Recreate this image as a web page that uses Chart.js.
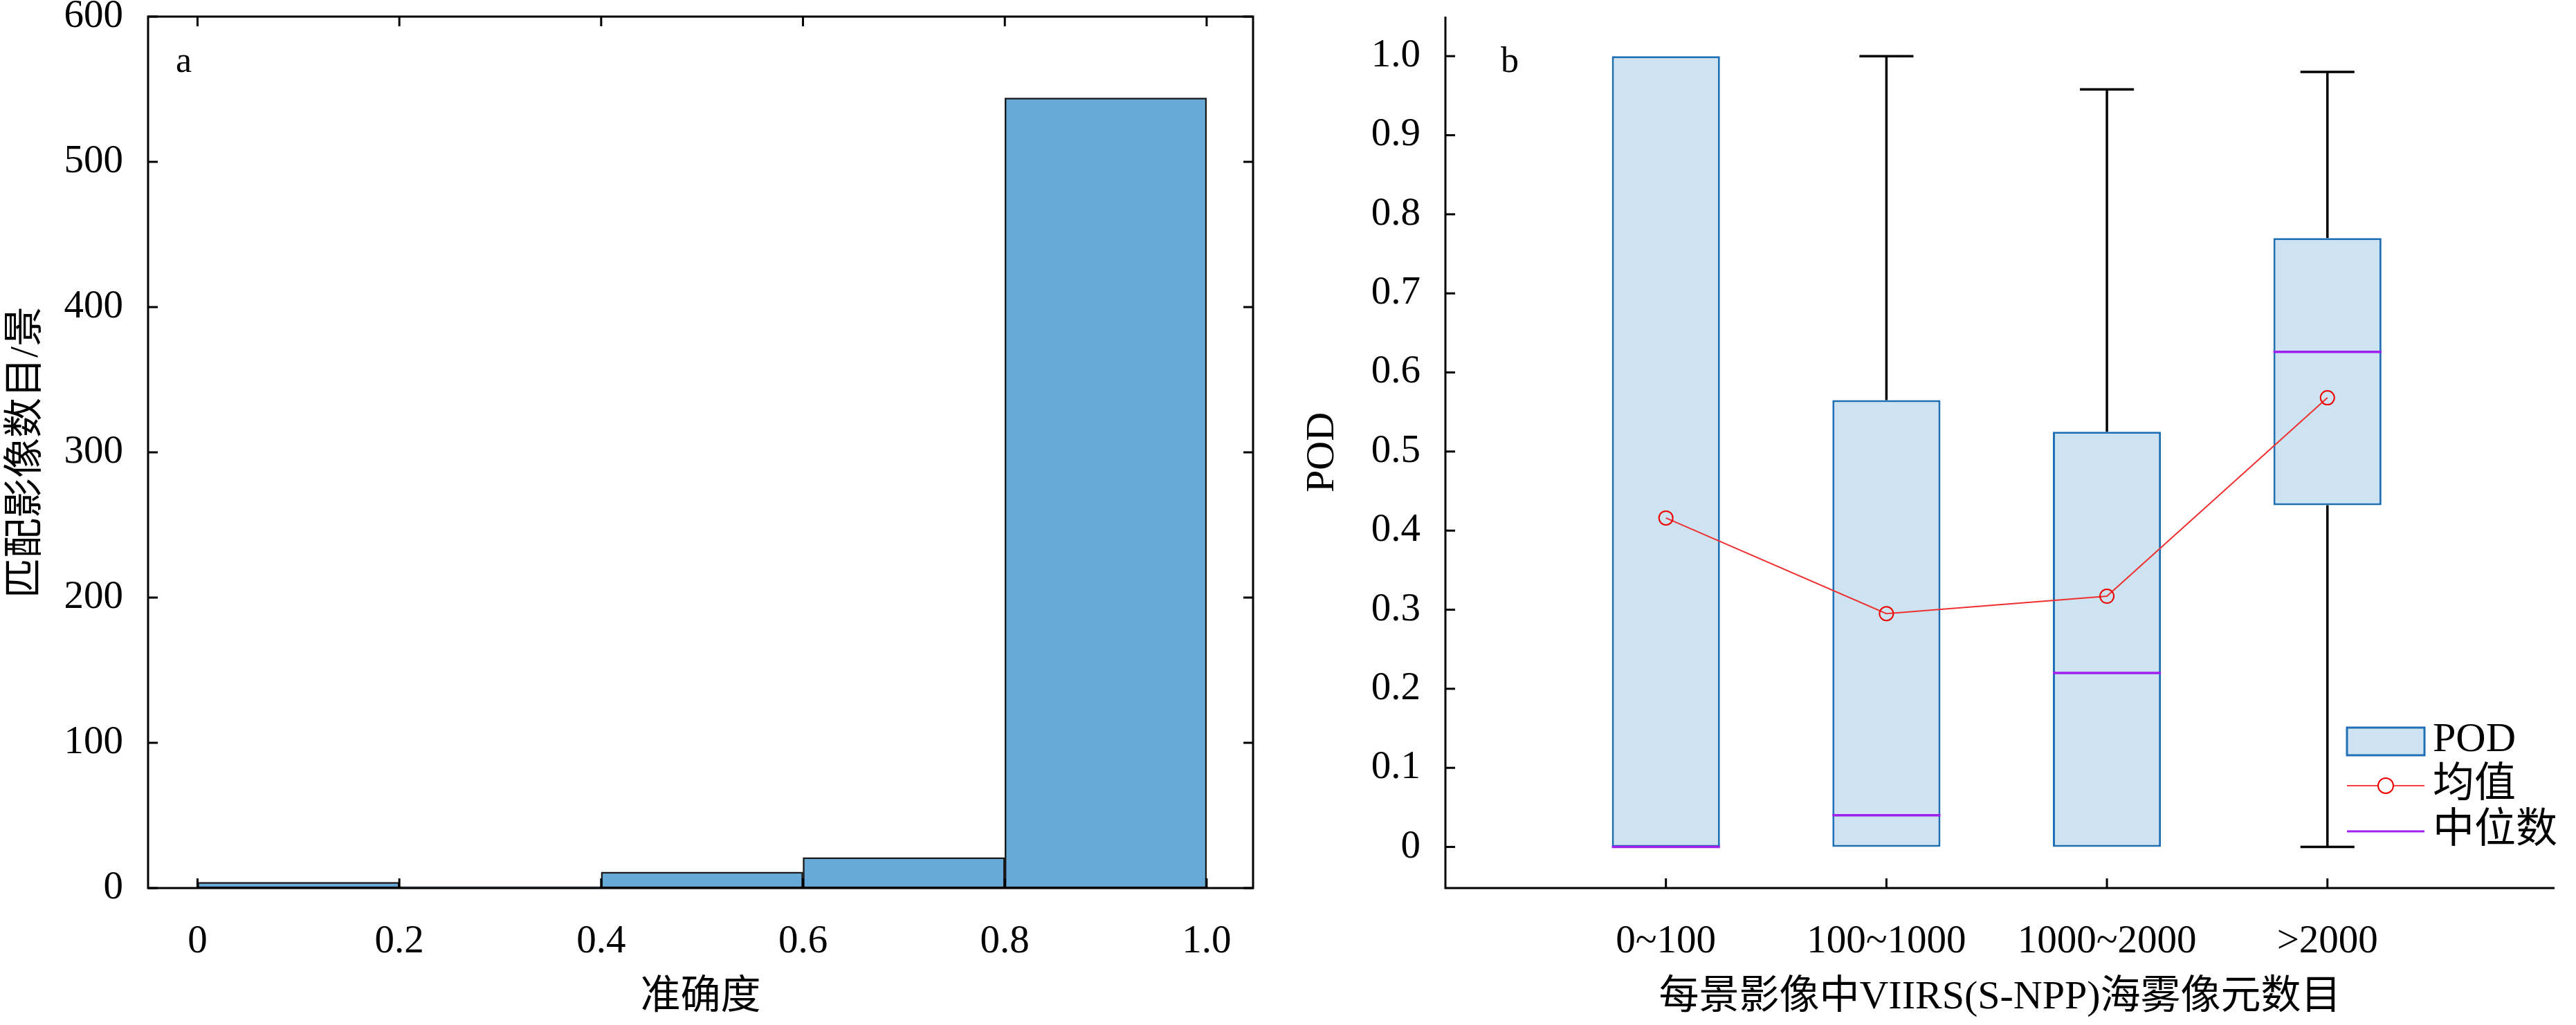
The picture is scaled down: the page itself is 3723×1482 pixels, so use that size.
<!DOCTYPE html>
<html><head><meta charset="utf-8">
<script src="https://cdn.jsdelivr.net/npm/chart.js@4"></script>
<style>body{margin:0;background:#fff}canvas{position:absolute;top:0}</style>
</head><body>
<canvas id="a" style="left:0" width="1850" height="1482"></canvas>
<canvas id="b" style="left:1873px" width="1850" height="1482"></canvas>
<script>
const FONT = "'Liberation Serif','Noto Sans CJK SC',serif";
// Panel a
const binCenters = [0.1, 0.3, 0.5, 0.7, 0.9];
const binCounts = [4, 1, 11, 21, 544];
const histTicks = [0, 0.2, 0.4, 0.6, 0.8, 1.0];
// Panel b
const groups = ['0~100', '100~1000', '1000~2000', '>2000'];
const whiskerLow = [0, 0, 0, 0];
const q1 = [0, 0, 0, 0.432];
const medians = [0, 0.04, 0.22, 0.626];
const q3 = [1.0, 0.565, 0.525, 0.77];
const whiskerHigh = [1.0, 1.0, 0.958, 0.98];
const means = [0.416, 0.295, 0.317, 0.568];

Chart.defaults.font.family = FONT;
Chart.defaults.font.size = 57;
Chart.defaults.color = '#000';
Chart.defaults.animation = false;

const boxPlug = {id:'frame', afterDraw(c){
  const a=c.chartArea, x=c.ctx; x.save(); x.strokeStyle='#000'; x.lineWidth=3;
  x.strokeRect(a.left,a.top,a.right-a.left,a.bottom-a.top);
  const xs=c.scales.x, ys=c.scales.y;
  histTicks.forEach(t=>{const p=xs.getPixelForValue(t);x.beginPath();x.moveTo(p,a.bottom);x.lineTo(p,a.bottom-14);x.moveTo(p,a.top);x.lineTo(p,a.top+14);x.stroke();});
  for(let v=0;v<=600;v+=100){const p=ys.getPixelForValue(v);x.beginPath();x.moveTo(a.left,p);x.lineTo(a.left+14,p);x.moveTo(a.right,p);x.lineTo(a.right-14,p);x.stroke();}
  x.font='52px '+FONT; x.fillStyle='#000'; x.fillText('a',a.left+40,a.top+80);
  x.restore();
}};
const noPad = s=>{s.paddingTop=0;s.paddingBottom=0;};

new Chart(document.getElementById('a'),{
  type:'bar',
  data:{datasets:[{data:binCenters.map((c,i)=>({x:c,y:binCounts[i]})),
    backgroundColor:'#67aad8',borderColor:'#1a1a1a',borderWidth:2.5,borderSkipped:false,
    barPercentage:1,categoryPercentage:1}]},
  options:{responsive:false,layout:{padding:{top:24,right:39}},
    plugins:{legend:{display:false},tooltip:{enabled:false}},
    scales:{
      x:{type:'linear',offset:false,min:-0.049,max:1.046,grid:{display:false,offset:false},border:{display:false},
        afterBuildTicks(s){s.ticks=histTicks.map(v=>({value:v}));},
        ticks:{padding:36,callback:v=>v===0?'0':v===1?'1.0':String(v)},
        title:{display:true,text:'准确度',padding:{top:22},font:{size:58}},
        afterFit(s){s.height=198;}},
      y:{min:0,max:600,grid:{display:false},border:{display:false},
        ticks:{stepSize:100,padding:28},
        title:{display:true,text:'匹配影像数目/景',font:{size:58}},
        afterFit(s){s.width=214;noPad(s);}}
    }},
  plugins:[boxPlug]
});

const bPlug = {id:'boxes', afterDatasetsDraw(c){
  const a=c.chartArea, x=c.ctx, xs=c.scales.x, ys=c.scales.y; x.save();
  x.lineWidth=3.5; x.strokeStyle='#000';
  groups.forEach((g,i)=>{
    const cx=xs.getPixelForValue(i), hw=(xs.getPixelForValue(0.245)-xs.getPixelForValue(0));
    const ln=(x1,y1,x2,y2)=>{x.beginPath();x.moveTo(x1,y1);x.lineTo(x2,y2);x.stroke();};
    x.strokeStyle='#000';
    if(whiskerHigh[i]>q3[i]){ln(cx,ys.getPixelForValue(q3[i]),cx,ys.getPixelForValue(whiskerHigh[i]));
      ln(cx-hw/2,ys.getPixelForValue(whiskerHigh[i]),cx+hw/2,ys.getPixelForValue(whiskerHigh[i]));}
    if(whiskerLow[i]<q1[i]){ln(cx,ys.getPixelForValue(q1[i]),cx,ys.getPixelForValue(whiskerLow[i]));
      ln(cx-hw/2,ys.getPixelForValue(whiskerLow[i]),cx+hw/2,ys.getPixelForValue(whiskerLow[i]));}
    x.strokeStyle='#a020f0'; ln(cx-hw,ys.getPixelForValue(medians[i]),cx+hw,ys.getPixelForValue(medians[i]));
  });
  x.strokeStyle='#000'; x.lineWidth=3;
  x.beginPath();x.moveTo(a.left,a.top);x.lineTo(a.left,a.bottom);x.lineTo(a.right,a.bottom);x.stroke();
  for(let v=0;v<=10;v++){const p=ys.getPixelForValue(v/10);x.beginPath();x.moveTo(a.left,p);x.lineTo(a.left+14,p);x.stroke();}
  groups.forEach((g,i)=>{const p=xs.getPixelForValue(i);x.beginPath();x.moveTo(p,a.bottom);x.lineTo(p,a.bottom-14);x.stroke();});
  x.font='52px '+FONT; x.fillStyle='#000'; x.fillText('b',a.left+80,a.top+80);
  const lx=a.right-300, ly=a.bottom-232;
  x.fillStyle='#cde3f1'; x.strokeStyle='#1f6fb5'; x.lineWidth=3;
  x.fillRect(lx,ly,112,40); x.strokeRect(lx,ly,112,40);
  x.strokeStyle='#ff4040'; x.lineWidth=2; x.beginPath();x.moveTo(lx,ly+84);x.lineTo(lx+112,ly+84);x.stroke();
  x.beginPath();x.arc(lx+56,ly+84,11,0,Math.PI*2);x.fillStyle='#fff';x.fill();x.strokeStyle='#e00';x.stroke();
  x.strokeStyle='#a020f0'; x.lineWidth=3; x.beginPath();x.moveTo(lx,ly+150);x.lineTo(lx+112,ly+150);x.stroke();
  x.fillStyle='#000'; x.font='60px '+FONT; x.textBaseline='middle';
  x.fillText('POD',lx+124,ly+18); x.fillText('均值',lx+124,ly+84); x.fillText('中位数',lx+124,ly+150);
  x.restore();
}};

new Chart(document.getElementById('b'),{
  data:{datasets:[
    {type:'bar',data:groups.map((g,i)=>({x:i,y:[q1[i],q3[i]]})),backgroundColor:'#cde3f1',
     borderColor:'#1f6fb5',borderWidth:3,borderSkipped:false,barPercentage:0.49,categoryPercentage:1,order:2},
    {type:'line',data:groups.map((g,i)=>({x:i,y:means[i]})),borderColor:'#f03030',borderWidth:2,
     pointStyle:'circle',pointRadius:10,pointBorderColor:'#e00',pointBackgroundColor:'rgba(0,0,0,0)',pointBorderWidth:2,order:1}
  ]},
  options:{responsive:false,layout:{padding:{top:24,right:31}},
    plugins:{legend:{display:false},tooltip:{enabled:false}},
    scales:{
      x:{type:'linear',offset:false,min:-1,max:4.03,grid:{display:false,offset:false},border:{display:false},
        afterBuildTicks(s){s.ticks=groups.map((g,i)=>({value:i}));},
        ticks:{padding:36,callback:v=>groups[v]},
        title:{display:true,text:'每景影像中VIIRS(S-NPP)海雾像元数目',padding:{top:22},font:{size:58}},
        afterFit(s){s.height=198;}},
      y:{min:-0.052,max:1.05,grid:{display:false},border:{display:false},
        afterBuildTicks(s){s.ticks=[0,1,2,3,4,5,6,7,8,9,10].map(v=>({value:v/10}));},
        ticks:{padding:28,callback:v=>{const r=Math.round(v*10);return r===0?'0':(r/10).toFixed(1);}},
        title:{display:true,text:'POD',font:{size:58}},
        afterFit(s){s.width=216;noPad(s);}}
    }},
  plugins:[bPlug]
});
</script></body></html>
